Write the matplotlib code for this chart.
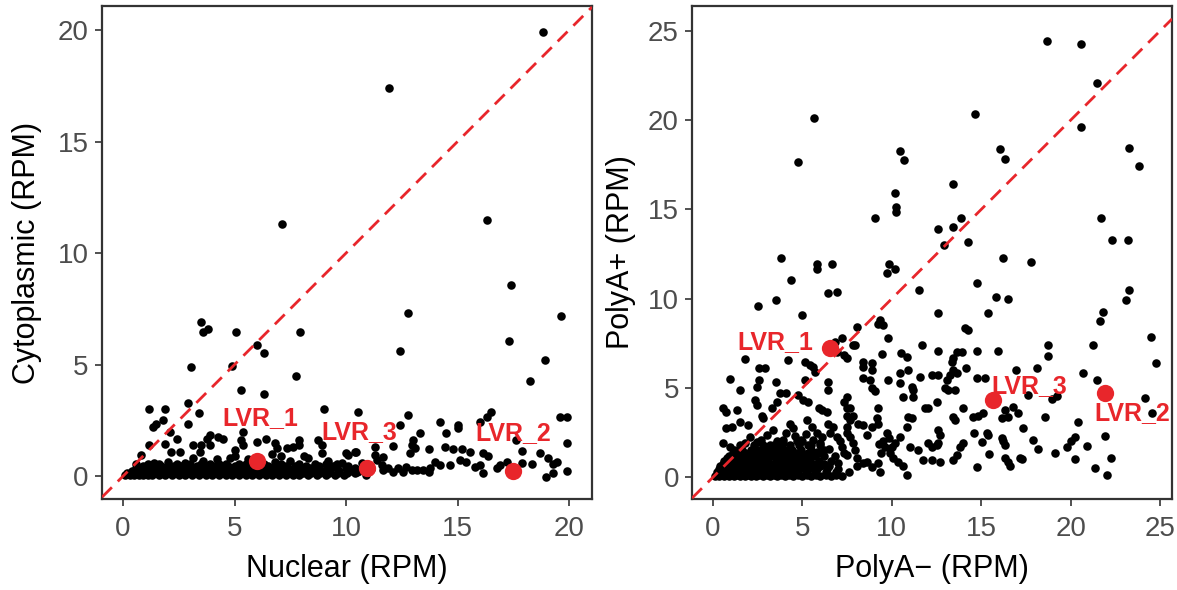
import matplotlib.pyplot as plt

plt.rcParams["font.family"] = ["Liberation Sans", "DejaVu Sans"]

RED = "#E8262B"

# ---- left panel: Nuclear vs Cytoplasmic (RPM) ----
cyto_high = [(18.83, 19.9), (11.93, 17.4), (7.13, 11.3), (16.3, 11.5), (17.4, 8.56), (12.78, 7.3),
             (19.64, 7.17), (3.5, 6.9), (3.8, 6.6), (3.6, 6.45), (5.07, 6.45), (7.94, 6.45),
             (6.0, 5.9), (6.3, 5.5), (17.3, 6.05), (12.4, 5.6), (18.9, 5.2), (3.05, 4.9),
             (4.9, 4.95), (7.77, 4.5), (18.25, 4.26), (5.3, 3.85), (6.3, 3.7)]

cyto_mid = [(2.9, 3.27), (1.17, 3.0), (1.88, 3.0), (3.4, 2.85), (9.0, 3.0), (10.55, 2.87),
            (12.8, 2.73), (16.5, 2.87), (16.3, 2.65), (16.0, 2.42), (19.6, 2.65), (19.9, 2.65),
            (14.2, 2.42), (15.0, 2.28), (15.0, 2.15), (12.4, 2.28), (2.9, 2.33), (1.8, 2.5),
            (1.5, 2.33), (1.35, 2.2), (5.4, 2.0), (2.1, 1.97), (14.5, 1.93), (13.3, 1.93),
            (17.6, 1.6), (19.9, 1.48), (2.4, 1.66), (1.9, 1.43), (1.17, 1.4), (0.8, 0.94),
            (2.15, 1.08), (3.15, 1.4), (3.5, 1.4), (3.45, 1.08), (3.9, 1.4), (3.9, 1.84),
            (4.26, 1.75), (4.5, 1.66), (3.75, 1.66), (3.15, 0.8), (5.3, 1.6), (5.4, 1.4),
            (6.0, 1.52), (6.4, 1.66), (6.8, 1.48), (6.9, 1.25), (5.0, 1.17), (7.9, 1.6),
            (7.9, 1.4), (7.6, 1.3), (7.35, 1.25), (8.75, 1.6), (8.9, 1.4), (8.9, 1.03),
            (2.55, 1.08), (6.7, 1.0), (7.1, 0.9), (13.0, 1.6), (12.95, 1.4), (13.1, 1.25),
            (12.85, 1.03), (13.7, 1.2), (14.45, 1.3), (14.8, 1.2), (15.2, 1.2), (15.55, 1.08),
            (16.15, 1.03), (16.35, 0.9), (17.9, 1.12), (18.7, 1.03), (19.05, 0.8), (19.45, 0.63),
            (19.3, 0.55), (19.9, 0.22), (18.95, -0.05), (19.3, 0.13), (18.35, 0.54), (17.9, 0.58),
            (17.2, 0.63), (16.9, 0.49), (16.75, 0.36), (16.15, 0.13), (16.0, 0.49), (15.8, 0.4),
            (15.4, 0.63), (15.1, 0.72), (14.65, 0.49), (14.2, 0.49), (14.0, 0.63), (13.75, 0.36),
            (13.7, 0.18), (13.45, 0.27), (13.2, 0.27), (12.95, 0.27), (12.7, 0.4), (12.55, 0.18),
            (12.35, 0.36), (12.1, 0.18), (11.9, 0.36), (11.65, 0.27), (11.6, 0.49), (11.4, 0.72),
            (11.3, 0.94), (10.4, 1.08), (10.1, 0.94), (10.0, 1.03), (10.45, 1.08), (11.3, 1.3),
            (11.65, 0.85), (12.1, 1.35)]

cyto_band = [(0.1, 0.05), (0.3, 0.05), (0.5, 0.05), (0.7, 0.05), (0.9, 0.05), (1.1, 0.05),
             (1.3, 0.05), (1.6, 0.05), (1.9, 0.05), (2.2, 0.05), (2.5, 0.05), (2.8, 0.05),
             (3.1, 0.05), (3.4, 0.05), (3.7, 0.05), (4.0, 0.05), (4.3, 0.05), (4.6, 0.05),
             (4.9, 0.05), (5.2, 0.05), (5.5, 0.05), (5.8, 0.05), (6.1, 0.05), (6.4, 0.05),
             (6.7, 0.05), (7.0, 0.05), (7.3, 0.05), (7.6, 0.05), (7.9, 0.05), (8.3, 0.05),
             (8.7, 0.05), (9.1, 0.05), (9.5, 0.05), (9.9, 0.05),
             (0.4, 0.25), (0.8, 0.25), (1.2, 0.25), (1.5, 0.25), (1.8, 0.25), (2.1, 0.25),
             (2.4, 0.25), (2.7, 0.25), (3.0, 0.25), (3.3, 0.25), (3.6, 0.25), (3.9, 0.25),
             (4.2, 0.25), (4.5, 0.25), (4.8, 0.25), (5.1, 0.25), (5.4, 0.25), (5.7, 0.25),
             (6.3, 0.25), (6.6, 0.25), (6.9, 0.25), (7.2, 0.25), (7.5, 0.25), (7.8, 0.25),
             (8.1, 0.25), (8.5, 0.25), (8.9, 0.25), (9.3, 0.25), (9.7, 0.25), (10.2, 0.25),
             (10.6, 0.25),
             (0.9, 0.45), (1.3, 0.45), (1.7, 0.45), (2.0, 0.45), (2.3, 0.45), (2.6, 0.45),
             (2.9, 0.45), (3.3, 0.45), (3.7, 0.45), (4.1, 0.45), (4.4, 0.45), (4.7, 0.45),
             (5.0, 0.45), (5.3, 0.45), (5.6, 0.45), (6.5, 0.45), (6.9, 0.45), (7.3, 0.45),
             (7.7, 0.45), (8.2, 0.45), (8.8, 0.45), (9.4, 0.45), (10.1, 0.45),
             (4.8, 0.8), (5.6, 0.75), (7.5, 0.7), (8.3, 0.8), (9.2, 0.7), (9.8, 0.6),
             (10.7, 0.6), (10.5, 0.2), (10.9, 0.05), (11.1, 0.3), (8.1, 0.9), (5.0, 0.9),
             (4.2, 0.75), (2.8, 0.6), (2.0, 0.65), (1.4, 0.6), (0.6, 0.55), (3.6, 0.7),
             (6.8, 0.65)]

cyto_band_fill = [(0.2, 0.15), (0.6, 0.15), (1.0, 0.15), (1.4, 0.15), (1.75, 0.15), (2.05, 0.15),
                  (2.35, 0.15), (2.65, 0.15), (2.95, 0.15), (3.25, 0.15), (3.55, 0.15), (3.85, 0.15),
                  (4.15, 0.15), (4.45, 0.15), (4.75, 0.15), (5.05, 0.15), (5.35, 0.15), (5.65, 0.15),
                  (5.95, 0.15), (6.25, 0.15), (6.55, 0.15), (6.85, 0.15), (7.15, 0.15), (7.45, 0.15),
                  (7.75, 0.15), (8.05, 0.15), (8.45, 0.15), (8.85, 0.15), (9.25, 0.15), (9.65, 0.15),
                  (10.05, 0.15), (10.4, 0.15),
                  (0.6, 0.35), (1.0, 0.35), (1.4, 0.35), (1.9, 0.35), (2.25, 0.35), (2.55, 0.35),
                  (2.85, 0.35), (3.15, 0.35), (3.45, 0.35), (3.75, 0.35), (4.05, 0.35), (4.35, 0.35),
                  (4.65, 0.35), (4.95, 0.35), (5.25, 0.35), (5.55, 0.35), (5.9, 0.35), (6.2, 0.35),
                  (6.75, 0.35), (7.05, 0.35), (7.4, 0.35), (7.7, 0.35), (8.0, 0.35), (8.4, 0.35),
                  (8.75, 0.35), (9.15, 0.35), (9.6, 0.35), (10.0, 0.35), (10.4, 0.35),
                  (1.1, 0.55), (1.6, 0.55), (2.4, 0.55), (3.0, 0.55), (3.5, 0.55), (3.9, 0.55),
                  (4.3, 0.55), (4.6, 0.55), (5.2, 0.55), (5.5, 0.55), (5.9, 0.55), (6.3, 0.55),
                  (7.1, 0.55), (7.9, 0.55), (8.6, 0.55), (9.1, 0.55), (9.6, 0.55)]

cyto_hits = [(6.0, 0.67), (10.95, 0.35), (17.5, 0.22)]
cyto_hit_names = ["LVR_1", "LVR_3", "LVR_2"]
cyto_label_pos = [(6.15, 2.6), (10.6, 2.0), (17.5, 1.95)]

# ---- right panel: PolyA- vs PolyA+ (RPM) ----
polya_high = [(18.7, 24.45), (20.6, 24.25), (21.5, 22.1), (5.65, 20.1), (14.65, 20.35), (20.6, 19.6),
              (23.25, 18.45), (23.8, 17.45), (4.75, 17.65), (10.45, 18.25), (10.7, 17.75),
              (16.05, 18.4), (16.35, 17.8), (13.4, 16.4), (10.2, 15.9), (10.25, 15.15),
              (10.25, 14.85), (9.05, 14.5), (13.85, 14.5), (12.6, 13.9), (13.4, 14.0), (14.25, 13.2),
              (12.9, 13.0), (21.7, 14.5), (22.3, 13.3), (23.2, 13.3), (3.8, 12.3), (5.8, 11.95),
              (5.8, 11.65), (6.65, 11.95), (4.35, 11.05), (9.85, 11.95), (10.2, 11.65), (9.75, 11.45),
              (16.2, 12.3), (17.8, 12.05), (11.5, 10.5), (14.75, 10.9), (6.45, 10.3), (6.95, 10.4),
              (3.5, 9.95), (15.85, 10.1), (16.5, 10.0), (23.25, 10.5), (23.1, 9.95)]

polya_mid = [(2.5, 9.6), (5.0, 9.1), (15.4, 9.2), (12.6, 9.2), (21.8, 9.25), (21.65, 8.75), (24.5, 7.85),
             (24.8, 6.4), (21.25, 7.4), (21.5, 5.45), (24.15, 4.45), (24.55, 3.6), (21.9, 2.3),
             (22.25, 1.05), (22.05, 0.15), (21.35, 0.5), (20.9, 1.75), (20.4, 3.1), (20.7, 5.85),
             (20.25, 2.25), (20.0, 2.05), (19.8, 1.7), (20.25, 1.0), (19.1, 1.35), (18.2, 1.6),
             (17.9, 2.1), (17.35, 2.75), (18.55, 3.35), (18.95, 4.4), (19.25, 4.55), (18.75, 6.8),
             (18.75, 7.4), (18.1, 6.1), (17.6, 4.6), (17.05, 3.6), (16.8, 3.95), (16.95, 6.0),
             (15.95, 7.05), (14.75, 7.05), (15.2, 5.55), (14.75, 5.55), (16.15, 3.3), (16.5, 3.35),
             (16.35, 3.75), (15.1, 3.6), (14.55, 3.35), (14.8, 3.4), (14.6, 2.45), (15.3, 2.5),
             (15.35, 2.35), (15.05, 1.95), (16.2, 2.05), (16.15, 2.2), (16.35, 1.8), (15.45, 1.3),
             (14.75, 0.55), (16.35, 1.1), (16.5, 0.85), (16.6, 0.65), (17.15, 1.05), (17.3, 1.0),
             (14.25, 8.25), (14.1, 8.35), (11.7, 7.4), (12.6, 7.05), (13.65, 7.0), (13.95, 7.0),
             (13.4, 6.7), (13.35, 6.45), (10.5, 6.95), (10.85, 6.75), (9.45, 6.9), (9.8, 7.8),
             (9.35, 8.8), (9.5, 8.5), (9.25, 8.6), (8.05, 8.4), (7.95, 7.4), (8.4, 6.45), (8.4, 6.15),
             (8.9, 6.4), (8.9, 6.0), (8.8, 5.45), (8.4, 5.55), (8.9, 5.0), (9.05, 4.8), (9.8, 5.45),
             (10.45, 5.85), (10.45, 5.25), (10.9, 6.0), (11.1, 5.05), (11.2, 4.9), (11.2, 4.5),
             (10.65, 4.5), (11.6, 5.6), (12.25, 5.7), (12.5, 4.2), (12.6, 5.7), (13.1, 5.45),
             (13.25, 5.7), (12.95, 5.0), (13.15, 4.9), (13.55, 4.9), (13.65, 5.85), (13.4, 6.0),
             (14.15, 6.1), (11.85, 3.85), (12.05, 3.85), (10.9, 3.35), (11.1, 3.3), (13.4, 3.35),
             (13.55, 3.2), (14.0, 3.85), (12.6, 2.65), (12.7, 2.35), (12.6, 1.9), (12.05, 1.9),
             (12.25, 1.7), (12.5, 1.8), (11.45, 1.5), (11.0, 1.7), (11.75, 0.95), (12.25, 0.95),
             (12.7, 0.85), (13.4, 0.95), (13.65, 1.25), (13.8, 1.7), (14.0, 1.9), (10.45, 2.25),
             (10.85, 2.8), (10.2, 1.9), (10.0, 1.7), (9.9, 1.35), (10.05, 1.05), (10.35, 0.85),
             (10.85, 0.1), (10.65, 0.65), (9.75, 2.45), (9.85, 2.2), (9.5, 2.05), (9.6, 1.7),
             (9.3, 1.85), (9.4, 1.35), (9.2, 0.8), (9.35, 0.3), (8.6, 0.85), (8.9, 0.55), (8.4, 0.8),
             (9.25, 3.9), (9.15, 3.3), (9.25, 3.0), (8.9, 2.8), (8.6, 2.35), (8.4, 2.9), (8.1, 3.0)]

polya_low = [(7.5, 4.5), (7.3, 4.2), (7.5, 3.9), (7.5, 3.45), (7.65, 3.85), (7.85, 3.45), (7.65, 3.2),
             (7.5, 2.8), (7.5, 2.45), (7.65, 2.25), (7.85, 1.9), (7.95, 1.5), (8.05, 1.1), (8.05, 0.65),
             (7.2, 7.8), (6.8, 7.55), (6.95, 7.0), (7.3, 6.85), (7.5, 6.65), (7.85, 7.4), (5.15, 6.45),
             (5.4, 6.3), (5.6, 6.15), (5.7, 5.9), (5.15, 5.45), (6.45, 5.35), (6.45, 4.9), (4.2, 6.55),
             (3.5, 5.35), (1.8, 6.6), (2.6, 6.1), (2.9, 6.1), (0.95, 5.5), (2.6, 5.45), (2.45, 5.05),
             (1.5, 4.9), (3.75, 4.7), (4.1, 4.7), (0.55, 3.85), (0.7, 3.65), (1.35, 3.75), (2.35, 4.3),
             (2.45, 4.05), (4.75, 4.6), (5.05, 4.3), (5.3, 4.2), (5.9, 3.9), (6.1, 3.75), (6.4, 3.65),
             (3.3, 3.85), (3.6, 4.2), (2.75, 3.45), (2.8, 3.3), (1.5, 3.1), (1.95, 2.9), (0.7, 2.75),
             (1.05, 2.8), (6.45, 3.0), (6.7, 2.8), (6.55, 2.45), (6.95, 2.25), (7.1, 2.05), (7.2, 1.7),
             (7.3, 1.35), (7.5, 1.25), (5.25, 3.2), (5.55, 2.8), (5.8, 2.5), (6.1, 2.25), (4.3, 3.0),
             (4.5, 2.75), (4.1, 2.45), (4.7, 2.05), (3.9, 1.9), (3.35, 2.65), (3.0, 2.35), (3.6, 2.05),
             (3.2, 1.8), (2.05, 2.25), (2.45, 1.95), (1.8, 1.9), (0.55, 1.9), (0.95, 1.7),
             (5.0, 2.0), (5.5, 1.8), (6.0, 1.9), (6.5, 1.6), (6.8, 1.2), (7.0, 0.8), (6.2, 1.2),
             (5.8, 1.4), (4.6, 2.3), (5.2, 2.4)]

polya_cluster = [(0.1, 0.05), (0.35, 0.05), (0.6, 0.05), (0.9, 0.05), (1.2, 0.05), (1.5, 0.05),
                 (1.8, 0.05), (2.1, 0.05), (2.4, 0.05), (2.8, 0.05), (3.2, 0.05), (3.6, 0.05),
                 (4.0, 0.05), (4.5, 0.05), (5.0, 0.05), (5.5, 0.05), (6.0, 0.05), (6.6, 0.05), (7.2, 0.05),
                 (0.2, 0.3), (0.5, 0.3), (0.8, 0.3), (1.1, 0.3), (1.4, 0.3), (1.7, 0.3), (2.0, 0.3),
                 (2.3, 0.3), (2.6, 0.3), (3.0, 0.3), (3.4, 0.3), (3.8, 0.3), (4.2, 0.3), (4.7, 0.3),
                 (5.2, 0.3), (5.7, 0.3), (6.3, 0.3), (6.9, 0.3), (7.6, 0.3),
                 (0.4, 0.6), (0.7, 0.6), (1.0, 0.6), (1.3, 0.6), (1.6, 0.6), (1.9, 0.6), (2.2, 0.6),
                 (2.5, 0.6), (2.9, 0.6), (3.3, 0.6), (3.7, 0.6), (4.1, 0.6), (4.4, 0.6), (4.9, 0.6),
                 (5.4, 0.6), (6.0, 0.6), (6.5, 0.6),
                 (0.6, 0.9), (0.9, 0.9), (1.2, 0.9), (1.5, 0.9), (1.8, 0.9), (2.1, 0.9), (2.4, 0.9),
                 (2.7, 0.9), (3.1, 0.9), (3.5, 0.9), (3.9, 0.9), (4.3, 0.9), (4.8, 0.9), (5.3, 0.9),
                 (5.9, 0.9), (6.6, 0.9),
                 (0.9, 1.2), (1.3, 1.2), (1.6, 1.2), (2.0, 1.2), (2.3, 1.2), (2.6, 1.2), (3.0, 1.2),
                 (3.4, 1.2), (3.8, 1.2), (4.2, 1.2), (4.6, 1.2), (5.1, 1.2), (5.7, 1.2),
                 (1.2, 1.5), (1.6, 1.5), (2.1, 1.5), (2.5, 1.5), (2.9, 1.5), (3.3, 1.5), (3.7, 1.5),
                 (4.0, 1.5), (4.4, 1.5), (4.9, 1.5), (5.5, 1.5), (6.2, 1.5),
                 (1.5, 1.8), (2.3, 1.8), (2.8, 1.8), (3.4, 1.8), (3.8, 1.8), (4.3, 1.8), (4.8, 1.8),
                 (5.3, 1.8), (6.0, 1.8)]

polya_cluster_fill = [(0.25, 0.15), (0.5, 0.15), (0.75, 0.15), (1.05, 0.15), (1.35, 0.15), (1.65, 0.15),
                      (1.95, 0.15), (2.25, 0.15), (2.6, 0.15), (3.0, 0.15), (3.4, 0.15), (3.8, 0.15),
                      (4.25, 0.15), (4.75, 0.15), (5.25, 0.15), (5.75, 0.15), (6.3, 0.15), (6.9, 0.15),
                      (0.35, 0.45), (0.65, 0.45), (0.95, 0.45), (1.25, 0.45), (1.55, 0.45), (1.85, 0.45),
                      (2.15, 0.45), (2.45, 0.45), (2.75, 0.45), (3.15, 0.45), (3.55, 0.45), (3.95, 0.45),
                      (4.35, 0.45), (4.8, 0.45), (5.3, 0.45), (5.8, 0.45), (6.4, 0.45), (7.0, 0.45),
                      (0.55, 0.75), (0.85, 0.75), (1.15, 0.75), (1.45, 0.75), (1.75, 0.75), (2.05, 0.75),
                      (2.35, 0.75), (2.65, 0.75), (3.0, 0.75), (3.4, 0.75), (3.8, 0.75), (4.2, 0.75),
                      (4.6, 0.75), (5.1, 0.75), (5.6, 0.75), (6.2, 0.75),
                      (0.8, 1.05), (1.1, 1.05), (1.4, 1.05), (1.7, 1.05), (2.0, 1.05), (2.3, 1.05),
                      (2.7, 1.05), (3.1, 1.05), (3.5, 1.05), (3.9, 1.05), (4.4, 1.05), (4.9, 1.05),
                      (5.4, 1.05),
                      (1.1, 1.35), (1.4, 1.35), (1.8, 1.35), (2.2, 1.35), (2.7, 1.35), (3.1, 1.35),
                      (3.5, 1.35), (4.2, 1.35), (4.7, 1.35), (5.3, 1.35), (5.9, 1.35),
                      (2.7, 2.1), (3.9, 2.1), (4.9, 2.1), (5.6, 2.1)]

polya_hits = [(6.55, 7.25), (21.9, 4.7), (15.65, 4.3)]
polya_hit_names = ["LVR_1", "LVR_2", "LVR_3"]
polya_label_pos = [(3.5, 7.55), (23.45, 3.6), (17.7, 5.1)]


def draw_panel(ax, groups, hits, names, label_pos, xlim, ylim, ticks, xlabel, ylabel, ylabel_x):
    pts = [p for g in groups for p in g]
    xs = [p[0] for p in pts]
    ys = [p[1] for p in pts]
    ax.scatter(xs, ys, s=38, c="black", linewidths=0, zorder=2)
    ax.axline((0, 0), slope=1, color=RED, lw=2.0, ls=(0, (5, 3)), zorder=3)
    ax.scatter([h[0] for h in hits], [h[1] for h in hits], s=155, c=RED, linewidths=0, zorder=4)
    for name, (tx, ty) in zip(names, label_pos):
        ax.text(tx, ty, name, color=RED, fontsize=18, fontweight="bold",
                ha="center", va="center", zorder=5)

    ax.set_xlim(xlim)
    ax.set_ylim(ylim)
    ax.set_xticks(ticks)
    ax.set_yticks(ticks)
    for sp in ax.spines.values():
        sp.set_linewidth(1.6)
        sp.set_color("#333333")
    ax.tick_params(direction="out", length=5, width=1.2, color="#333333",
                   labelcolor="#4D4D4D", labelsize=20, pad=4.5)
    ax.tick_params(axis="x", pad=7)
    ax.set_xlabel(xlabel, fontsize=22, labelpad=9)
    ax.set_ylabel(ylabel, fontsize=22)
    ax.yaxis.set_label_coords(ylabel_x, 0.5)


fig = plt.figure(figsize=(11.77, 5.9), dpi=100)
ax1 = fig.add_axes([0.0867, 0.154, 0.4163, 0.836])
ax2 = fig.add_axes([0.588, 0.154, 0.4078, 0.836])

draw_panel(ax1, [cyto_high, cyto_mid, cyto_band, cyto_band_fill], cyto_hits, cyto_hit_names,
           cyto_label_pos, (-0.94, 21.03), (-1.03, 21.08), [0, 5, 10, 15, 20],
           "Nuclear (RPM)", "Cytoplasmic (RPM)", -0.122)
draw_panel(ax2, [polya_high, polya_mid, polya_low, polya_cluster, polya_cluster_fill],
           polya_hits, polya_hit_names, polya_label_pos,
           (-1.17, 25.67), (-1.23, 26.4), [0, 5, 10, 15, 20, 25],
           "PolyA\u2212 (RPM)", "PolyA+ (RPM)", -0.117)

fig.savefig("out.png", dpi=100)
